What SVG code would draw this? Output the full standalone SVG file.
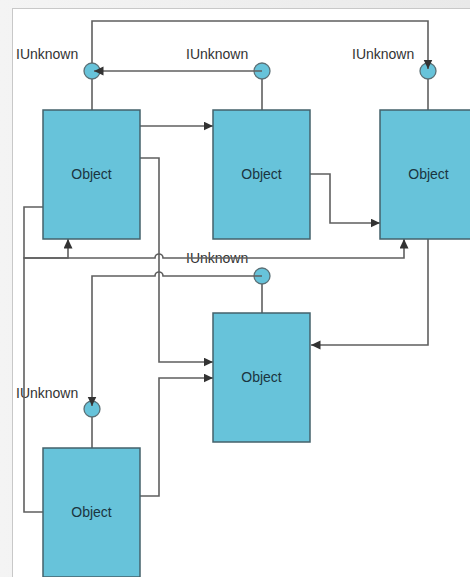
<svg xmlns="http://www.w3.org/2000/svg" width="470" height="577" viewBox="0 0 470 577">
  <defs>
    <linearGradient id="bgShade" x1="0" y1="0" x2="1" y2="0">
      <stop offset="0" stop-color="#f4f4f4"/>
      <stop offset="1" stop-color="#e9e9e9"/>
    </linearGradient>
    <marker id="arrow" markerUnits="userSpaceOnUse" markerWidth="11" markerHeight="10" refX="9.5" refY="4.5" orient="auto">
      <path d="M0,0 L9.5,4.5 L0,9 z" fill="#333"/>
    </marker>
    <style>
      .box { fill: #67c3da; stroke: #44626b; stroke-width: 1.5; }
      .port { fill: #67c3da; stroke: #5b6f75; stroke-width: 1.3; }
      .stem { fill: none; stroke: #5f5f5f; stroke-width: 1.6; }
      .wire { fill: none; stroke: #5f5f5f; stroke-width: 1.6; }
      .arr { marker-end: url(#arrow); }
      .obj { font-family: "Liberation Sans", Arial, sans-serif; font-size: 14px; fill: #1a3540; text-anchor: middle; }
      .lbl { font-family: "Liberation Sans", Arial, sans-serif; font-size: 14px; fill: #333; }
    </style>
  </defs>

  <!-- page background and panel -->
  <rect x="0" y="0" width="470" height="577" fill="url(#bgShade)"/>
  <rect x="12.5" y="8.5" width="470" height="580" fill="#fff" stroke="#c8c8c8" stroke-width="1"/>

  <!-- interfaces (lollipops) -->
  <g id="if1">
    <path class="stem" d="M92,110 V79"/>
    <circle class="port" cx="92" cy="71" r="8"/>
    <text class="lbl" x="16" y="59">IUnknown</text>
  </g>
  <g id="if2">
    <path class="stem" d="M262,110 V79"/>
    <circle class="port" cx="262" cy="71" r="8"/>
    <text class="lbl" x="186" y="59">IUnknown</text>
  </g>
  <g id="if3">
    <path class="stem" d="M428,110 V79"/>
    <circle class="port" cx="428" cy="71" r="8"/>
    <text class="lbl" x="352" y="59">IUnknown</text>
  </g>
  <g id="if4">
    <path class="stem" d="M262,313 V284"/>
    <circle class="port" cx="262" cy="276" r="8"/>
    <text class="lbl" x="186" y="263">IUnknown</text>
  </g>
  <g id="if5">
    <path class="stem" d="M92,448 V417"/>
    <circle class="port" cx="92" cy="409" r="8"/>
    <text class="lbl" x="16" y="398">IUnknown</text>
  </g>

  <!-- connectors -->
  <g id="connectors">
    <!-- top loop to right interface -->
    <path class="wire arr" d="M92,63 V21 H428 V69"/>
    <!-- middle-top interface to left interface -->
    <path class="wire arr" d="M262,71 H94"/>
    <!-- object to object -->
    <path class="wire arr" d="M140,126 H213"/>
    <path class="wire arr" d="M140,158 H159 V362 H213"/>
    <path class="wire arr" d="M310,174 H330 V223 H380"/>
    <!-- left bus -->
    <path class="wire arr" d="M43,207 H24 V258 H68 V239"/>
    <path class="wire arr" d="M43,512 H24 V258 H155 a4,4 0 0 1 8,0 H404 V239"/>
    <!-- middle interface down to bottom interface -->
    <path class="wire arr" d="M262,276 H163 a4,4 0 0 0 -8,0 H92 V406"/>
    <!-- right object down and back -->
    <path class="wire arr" d="M428,239 V345 H311"/>
    <!-- bottom object up -->
    <path class="wire arr" d="M140,496 H159 V378 H213"/>
  </g>

  <!-- objects -->
  <g id="obj1">
    <rect class="box" x="43" y="110" width="97" height="129"/>
    <text class="obj" x="91.5" y="178.5">Object</text>
  </g>
  <g id="obj2">
    <rect class="box" x="213" y="110" width="97" height="129"/>
    <text class="obj" x="261.5" y="178.5">Object</text>
  </g>
  <g id="obj3">
    <rect class="box" x="380" y="110" width="97" height="129"/>
    <text class="obj" x="428.5" y="178.5">Object</text>
  </g>
  <g id="obj4">
    <rect class="box" x="213" y="313" width="97" height="129"/>
    <text class="obj" x="261.5" y="381.5">Object</text>
  </g>
  <g id="obj5">
    <rect class="box" x="43" y="448" width="97" height="129"/>
    <text class="obj" x="91.5" y="516.5">Object</text>
  </g>
</svg>
